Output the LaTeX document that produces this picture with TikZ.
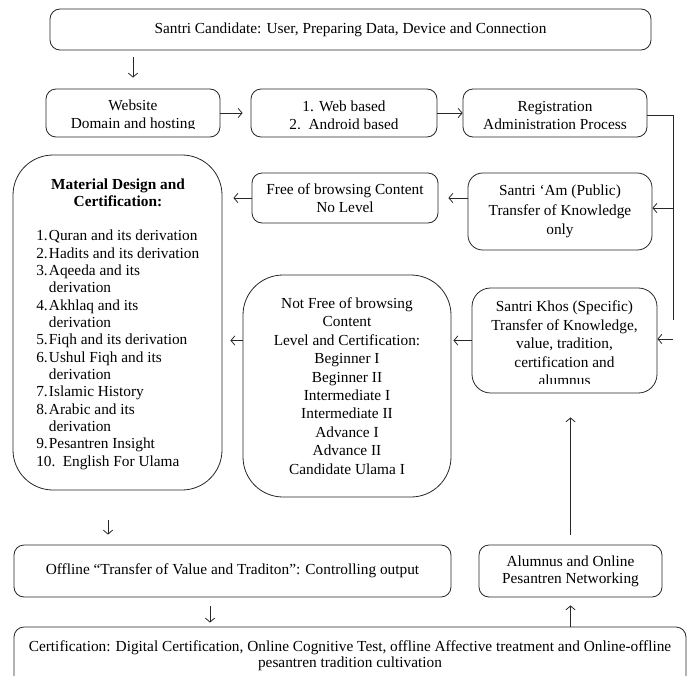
\documentclass[tikz,border=0pt]{standalone}
\usepackage{fontspec}
\setmainfont{Liberation Serif}
\usetikzlibrary{arrows.meta}
\def\lno#1{\makebox[9.5pt][l]{#1}}
\tikzset{
	box/.style={draw=black!85, line width=0.6pt, rounded corners=#1, inner sep=0pt, align=center},
	box/.default=7.5pt,
	sz/.style 2 args={minimum width=#1*0.75pt, minimum height=#2*0.75pt},
	txt/.style={inner sep=0pt, align=center},
	arr/.style={draw=black!85, line width=0.6pt, -{Straight Barb[length=3pt,width=7pt]}},
	rail/.style={draw=black!85, line width=0.6pt},
}

\begin{document}
\begin{tikzpicture}[x=0.75pt,y=-0.75pt,font=\fontsize{11.5}{13.8}\selectfont]
		%%%%% START %%%%%
		\path[use as bounding box] (0,0) rectangle (689,675);
		\clip (0,0) rectangle (689,675);
		
		\node[box, sz={601}{41}] (cand) at (350.5,29.5) {Santri Candidate: User, Preparing Data, Device and Connection};
		
		\node[box, sz={174}{48}] (web) at (133,113) {};
		\node[box, sz={186}{48}] (plat) at (344,113) {};
		\node[box, sz={184}{48}] (reg) at (555,113) {};
		\begin{scope}
			\clip ([yshift=6.75pt]web.south west) rectangle (reg.north east);
			\node[txt] (web text) at ([yshift=-1.9pt]web) {Website\\Domain and hosting};
			\node[txt] (plat text) at ([yshift=-1.9pt]plat) {1. Web based\\2.\ \ Android based};
			\node[txt] (reg text) at ([yshift=-1.9pt]reg) {Registration\\Administration Process};
		\end{scope}
		
		\node[box=30pt, sz={209}{335}] (mat) at (117.5,322.5) {};
		\node[txt, font=\fontsize{11.5}{13}\selectfont\bfseries] (mat head) at (118,193) {Material Design and\\Certification:};
		\node[txt, align=left, anchor=north west, font=\fontsize{11.5}{13}\selectfont] (mat list) at (36,230) {\lno{1.}Quran and its derivation\\ \lno{2.}Hadits and its derivation\\ \lno{3.}Aqeeda and its\\ \lno{}derivation\\ \lno{4.}Akhlaq and its\\ \lno{}derivation\\ \lno{5.}Fiqh and its derivation\\ \lno{6.}Ushul Fiqh and its\\ \lno{}derivation\\ \lno{7.}Islamic History\\ \lno{8.}Arabic and its\\ \lno{}derivation\\ \lno{9.}Pesantren Insight\\ 10.\hspace{5.5pt}English For Ulama};
		
		\node[box, sz={186}{50}] (free) at (345,198) {Free of browsing Content\\No Level};
		\node[box=11pt, sz={184}{77}, font=\fontsize{11.5}{14.6}\selectfont] (am) at (560,211.5) {Santri ‘Am (Public)\\Transfer of Knowledge\\only};
		
		\node[box=30pt, sz={208}{222}] (nfree) at (347,386) {Not Free of browsing\\Content\\Level and Certification:\\Beginner I\\Beginner II\\Intermediate I\\Intermediate II\\Advance I\\Advance II\\Candidate Ulama I};
		
		\node[box=14pt, sz={185}{105}] (khos) at (564.5,340.5) {};
		\begin{scope}
			\clip ([yshift=7.5pt]khos.south west) rectangle (khos.north east);
			\node[txt] (khos text) at ([yshift=-2.2pt]khos) {Santri Khos (Specific)\\Transfer of Knowledge,\\value, tradition,\\certification and\\alumnus};
		\end{scope}
		
		\node[box, sz={437}{52}] (off) at (232.5,571) {Offline “Transfer of Value and Traditon”: Controlling output};
		\node[box, sz={183}{52}, font=\fontsize{11.5}{12.9}\selectfont] (alum) at (570.5,571) {Alumnus and Online\\Pesantren Networking};
		
		\node[box, sz={672}{78}] (cert) at (350,666) {};
		\node[txt, font=\fontsize{11.5}{12.4}\selectfont] (cert text) at (350,655.5) {Certification: Digital Certification, Online Cognitive Test, offline Affective treatment and Online-offline\\pesantren tradition cultivation};
		
		\coordinate (rail top) at (673,115);
		\coordinate (rail end) at (673,320);
		\coordinate (am in) at (673,208);
		\coordinate (khos in) at (673,339);
		\coordinate (mat out) at (108,520);
		\coordinate (off out) at (210,606);
		
		\draw[arr, shorten <=5.25pt, shorten >=8.25pt] (cand.south -| web.north) -- (web.north);
		\draw[arr, shorten >=6pt] (web.east) -- (plat.west);
		\draw[arr] (plat.east) -- (reg.west);
		\draw[rail] (reg.east |- rail top) -- (rail top) -- (rail end);
		\draw[arr] (am in) -- (am in -| am.east);
		\draw[arr] (khos in) -- (khos in -| khos.east);
		\draw[arr, shorten >=7.5pt] (free.east -| am.west) -- (free.east);
		\draw[arr, shorten >=8.25pt] (free.west) -- (free.west -| mat.east);
		\draw[arr, shorten >=1.5pt] (khos.west) -- (khos.west -| nfree.east);
		\draw[arr, shorten >=6pt] (nfree.west |- khos.west) -- (mat.east |- khos.west);
		\draw[arr, shorten >=7.5pt] (mat out) -- (mat out |- off.north);
		\draw[arr, shorten >=3pt] (off out) -- (off out |- cert.north);
		\draw[arr, shorten >=6pt] (cert.north -| alum.south) -- (alum.south);
		\draw[arr, shorten <=7.5pt, shorten >=18pt] (alum.north) -- (alum.north |- khos.south);
		%%%%% END %%%%%
	\end{tikzpicture}
\end{document}
